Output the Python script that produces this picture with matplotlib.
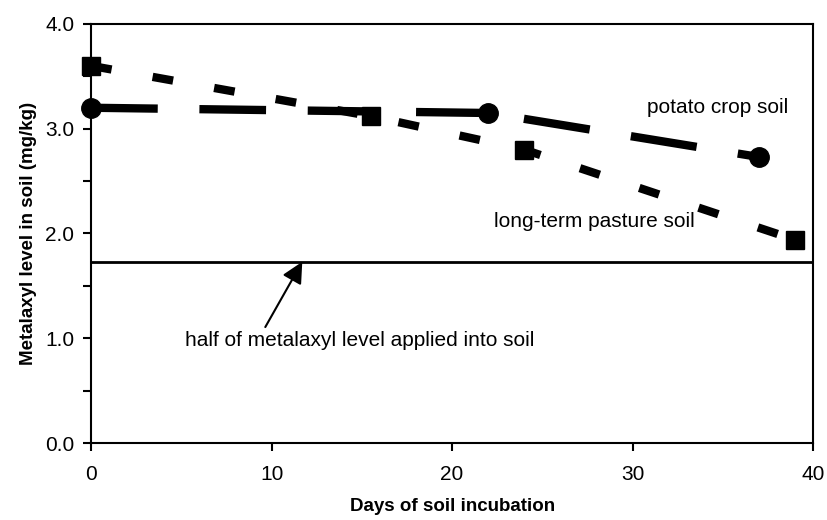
import numpy as np
import matplotlib
matplotlib.use("Agg")
import matplotlib.pyplot as plt

plt.rcParams['font.family'] = ['Liberation Sans', 'DejaVu Sans']

# potato crop soil (circles, long dashes)
potato_days = [0, 22, 37]
potato_level = [3.2, 3.15, 2.73]

# long-term pasture soil (squares, short dashes)
pasture_days = [0, 15.5, 24, 39]
pasture_level = [3.6, 3.12, 2.8, 1.94]

half_level = 1.73

fig = plt.figure(figsize=(8.28, 5.2), dpi=100)
ax = fig.add_axes([0.110, 0.148, 0.872, 0.806])

ax.plot(potato_days, potato_level, color='black', lw=6, ls=(0, (8, 5)),
        marker='o', ms=14, zorder=3, clip_on=False)
ax.plot(pasture_days, pasture_level, color='black', lw=6, ls=(0, (2.5, 5)),
        marker='s', ms=13, zorder=3, clip_on=False)

ax.axhline(half_level, color='black', lw=2)

ax.text(30.8, 3.2, 'potato crop soil', fontsize=15, va='center', ha='left')
ax.text(22.3, 2.11, 'long-term pasture soil', fontsize=15, va='center', ha='left')
ax.annotate('half of metalaxyl level applied into soil',
            xy=(11.7, half_level), xytext=(5.2, 0.98),
            fontsize=15, va='center', ha='left',
            arrowprops=dict(arrowstyle='-|>', color='black', lw=1.5,
                            mutation_scale=32, shrinkA=0, shrinkB=0,
                            patchA=None, relpos=(0.23, 1.2)))

ax.set_xlim(0, 40)
ax.set_ylim(0, 4.0)
ax.set_xticks([0, 10, 20, 30, 40])
ax.set_yticks(np.arange(0, 4.01, 1.0))
ax.set_yticks(np.arange(0, 4.01, 0.5), minor=True)
ax.set_yticklabels(['0.0', '1.0', '2.0', '3.0', '4.0'])
ax.tick_params(axis='both', labelsize=15, width=1.5, length=6, pad=6)
ax.tick_params(axis='x', pad=10)
ax.tick_params(axis='y', which='minor', width=1.5, length=6)
for s in ax.spines.values():
    s.set_linewidth(1.5)

ax.set_xlabel('Days of soil incubation', fontsize=13.5, fontweight='bold', labelpad=10)
ax.set_ylabel('Metalaxyl level in soil (mg/kg)', fontsize=13.5, fontweight='bold', labelpad=6)

fig.savefig('out.png', dpi=100)
